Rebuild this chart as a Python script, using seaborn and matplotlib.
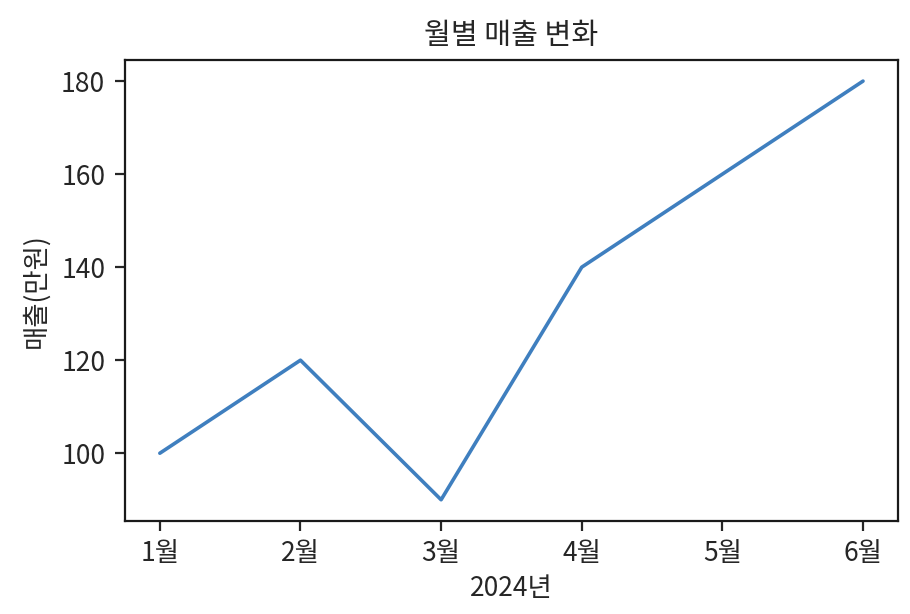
import matplotlib
matplotlib.use('Agg')
import matplotlib.pyplot as plt
import seaborn as sns
import pandas as pd

months = ['1월', '2월', '3월', '4월', '5월', '6월']
sales = [100, 120, 90, 140, 160, 180]

sns.set_style('ticks')
plt.rcParams['font.family'] = ['Noto Sans CJK KR', 'DejaVu Sans']
plt.rcParams['axes.unicode_minus'] = False

df = pd.DataFrame({'month': months, 'sales': sales})

fig, ax = plt.subplots(figsize=(4.55, 3.07), dpi=200)
sns.lineplot(data=df, x='month', y='sales', color='#3f7fbf', linewidth=1.3, ax=ax)

ax.set_title('월별 매출 변화', fontsize=10.5)
ax.set_xlabel('2024년', fontsize=9.5, labelpad=3)
ax.set_ylabel('매출(만원)', fontsize=9.5)
ax.tick_params(labelsize=9.5, length=3.5, width=0.8, colors='.15')
for s in ax.spines.values():
    s.set_linewidth(0.8)
    s.set_color('.1')
ax.set_yticks([100, 120, 140, 160, 180])

fig.subplots_adjust(left=0.137, right=0.987, top=0.902, bottom=0.152)
fig.savefig('out.png', dpi=200)
plt.close(fig)
